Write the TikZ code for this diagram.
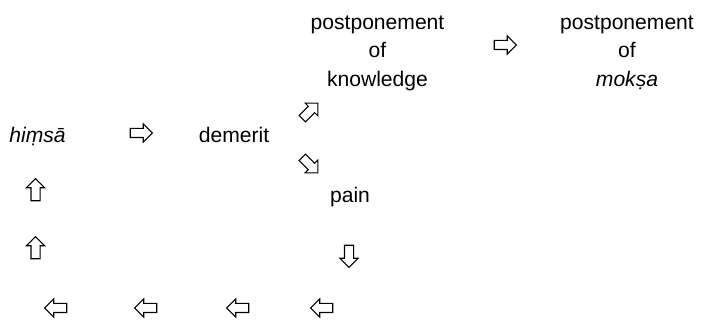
\documentclass[tikz,border=0pt]{standalone}
\usepackage{fontspec}
\setmainfont{Liberation Sans}
\usetikzlibrary{positioning,
        shapes,
        shapes.arrows}

\begin{document}
\begin{tikzpicture}[
        txt/.style={font=\fontsize{12}{16.2}\selectfont, inner sep=0pt, align=center},
        arr/.style={single arrow, draw, line width=0.6pt, inner sep=0.08cm,
            minimum height=0.44cm, single arrow head extend=0.09cm}]
        \useasboundingbox (0,0) rectangle (14.12,6.44);

        \node [txt,anchor=base] (himsa) at (0.75,3.58) {\textit{hiṃsā}};
        \node [txt,anchor=base] (demerit) at (4.68,3.58) {demerit};
        \node [txt,anchor=base] (pain) at (7.00,2.38) {pain};
        \node [txt,anchor=north] (know) at (7.55,6.13) {postponement\\of\\knowledge};
        \node [txt,anchor=north] (moksa) at (12.54,6.13) {postponement\\of\\\textit{mokṣa}};

        \node [arr] (a1) at (2.78,3.78) {};
        \node [arr,rotate=45] (a2) at (6.17,4.19) {};
        \node [arr,rotate=-45] (a3) at (6.17,3.17) {};
        \node [arr] (a4) at (10.06,5.54) {};
        \node [arr,rotate=-90] (a5) at (6.98,1.36) {};
        \node [arr,rotate=180] (a6) at (6.48,0.28) {};
        \node [arr,rotate=180] (a7) at (4.80,0.28) {};
        \node [arr,rotate=180] (a8) at (2.96,0.28) {};
        \node [arr,rotate=180] (a9) at (1.16,0.28) {};
        \node [arr,rotate=90] (a10) at (0.71,1.44) {};
        \node [arr,rotate=90] (a11) at (0.71,2.60) {};
    \end{tikzpicture}
\end{document}
